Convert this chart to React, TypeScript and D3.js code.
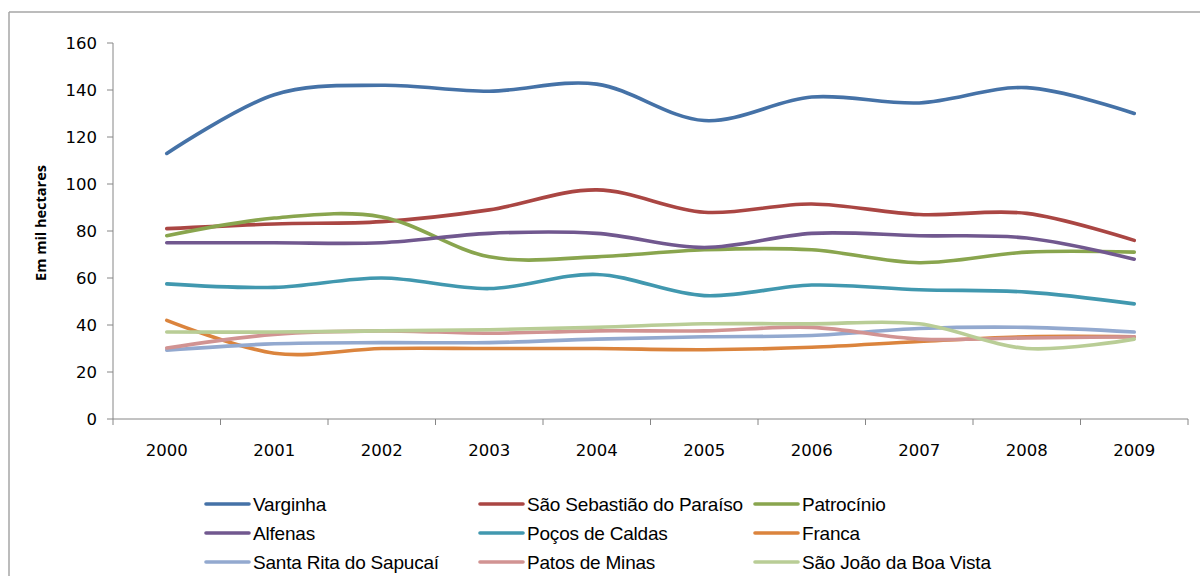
import React from "react";
import * as d3 from "d3";

const years = ["2000", "2001", "2002", "2003", "2004", "2005", "2006", "2007", "2008", "2009"];
const yTicks = [0, 20, 40, 60, 80, 100, 120, 140, 160];

const varginha = [113, 138, 142, 139.5, 142.5, 127, 137, 134.5, 141, 130];
const saoSebastiao = [81, 83, 84, 89, 97.5, 88, 91.5, 87, 87.5, 76];
const patrocinio = [78, 85.5, 86, 69, 69, 72, 72, 66.5, 71, 71];
const alfenas = [75, 75, 75, 79, 79, 73, 79, 78, 77, 68];
const pocos = [57.5, 56, 60, 55.5, 61.5, 52.5, 57, 55, 54, 49];
const franca = [42, 28, 30, 30, 30, 29.5, 30.5, 33, 35, 35];
const santaRita = [29.3, 32, 32.5, 32.5, 34, 35, 35.5, 38.5, 39, 37];
const patos = [30.2, 36, 37.5, 36.5, 37.5, 37.5, 39, 34, 34.5, 35];
const saoJoao = [37, 37, 37.5, 38, 39, 40.5, 40.5, 40.5, 30, 34];

const seriesNames = [
  "Varginha", "São Sebastião do Paraíso", "Patrocínio",
  "Alfenas", "Poços de Caldas", "Franca",
  "Santa Rita do Sapucaí", "Patos de Minas", "São João da Boa Vista",
];
const seriesValues = [varginha, saoSebastiao, patrocinio, alfenas, pocos, franca, santaRita, patos, saoJoao];
const seriesColors = [
  "#4572A7", "#AA4643", "#89A54E",
  "#71588F", "#4198AF", "#DB843D",
  "#93A9CF", "#D19392", "#B9CD96",
];

export default function App() {
  const W = 1200, H = 576;
  const x0 = 113, x1 = 1188, yTop = 43, yBot = 419;
  const xBand = d3.scaleBand().domain(years).range([x0, x1]);
  const y = d3.scaleLinear().domain([0, 160]).range([yBot, yTop]);
  const line = d3.line<number>()
    .x((_, i) => (xBand(years[i]) as number) + xBand.bandwidth() / 2)
    .y((v) => y(v))
    .curve(d3.curveCardinal.tension(0));

  const boundaries = years.map((yr) => xBand(yr) as number).concat([x1]);
  const legendCols = [206, 480, 755];
  const legendRows = [504, 533, 562];

  return (
    <svg width={W} height={H} style={{ position: "absolute", left: 0, top: 0, background: "#fff" }}>
      <rect x={0} y={0} width={W} height={H} fill="#fff" />
      {/* outer frame */}
      <line x1={9} y1={12} x2={W} y2={12} stroke="#A6A6A6" strokeWidth={1.5} />
      <line x1={9} y1={12} x2={9} y2={H} stroke="#A6A6A6" strokeWidth={1.5} />

      {/* y axis */}
      <line x1={x0} y1={yTop} x2={x0} y2={yBot} stroke="#868686" strokeWidth={1} />
      {yTicks.map((t) => (
        <g key={t}>
          <line x1={x0 - 6} x2={x0} y1={y(t)} y2={y(t)} stroke="#868686" />
          <text x={97} y={y(t)} dy="0.35em" textAnchor="end" fontFamily="DejaVu Sans" fontSize={16.5} fill="#000">{t}</text>
        </g>
      ))}
      {/* x axis */}
      <line x1={x0} y1={yBot} x2={x1} y2={yBot} stroke="#868686" strokeWidth={1} />
      {boundaries.map((b, i) => (
        <line key={i} x1={b} x2={b} y1={yBot} y2={yBot + 6} stroke="#868686" />
      ))}
      {years.map((yr) => (
        <text key={yr} x={(xBand(yr) as number) + xBand.bandwidth() / 2} y={450} dy="0.35em" textAnchor="middle" fontFamily="DejaVu Sans" fontSize={16.5} fill="#000">{yr}</text>
      ))}
      <text transform={`translate(41,${yTop + 180}) rotate(-90)`} textAnchor="middle" dy="0.35em" fontFamily="Open Sans" fontWeight="bold" fontSize={14.5} fill="#000">Em mil hectares</text>

      {/* lines */}
      {seriesValues.map((vals, i) => (
        <path key={seriesNames[i]} d={line(vals) || ""} fill="none" stroke={seriesColors[i]} strokeWidth={3.6} strokeLinecap="round" strokeLinejoin="round" />
      ))}

      {/* legend */}
      {seriesNames.map((name, i) => {
        const cx = legendCols[i % 3];
        const cy = legendRows[Math.floor(i / 3)];
        return (
          <g key={name}>
            <line x1={cx} x2={cx + 43} y1={cy} y2={cy} stroke={seriesColors[i]} strokeWidth={3.6} strokeLinecap="round" />
            <text x={cx + 47} y={cy} dy="0.35em" fontFamily="Liberation Sans" fontSize={19} fill="#000" style={{ letterSpacing: "-0.2px" }}>{name}</text>
          </g>
        );
      })}
    </svg>
  );
}
